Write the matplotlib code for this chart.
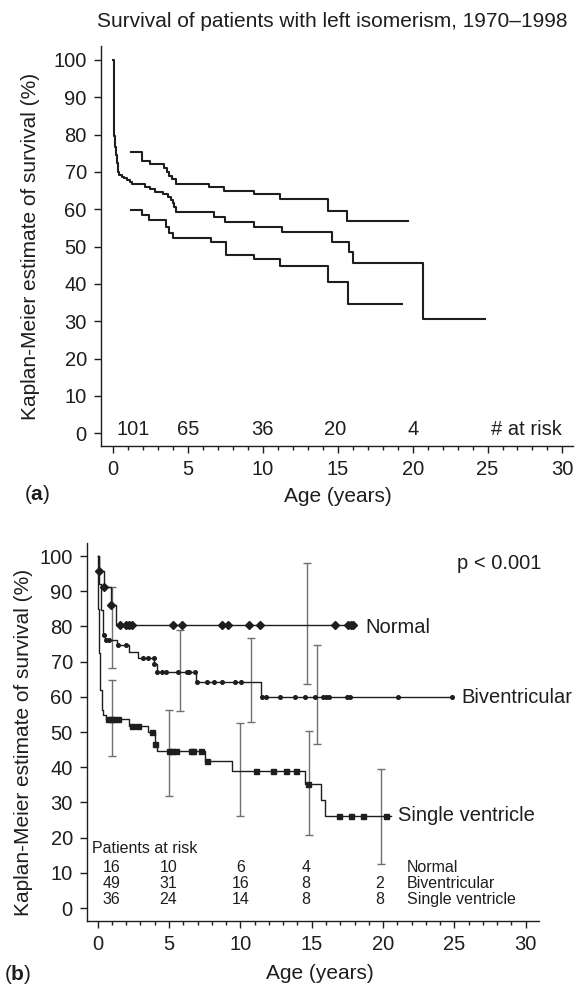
import numpy as np
import matplotlib
matplotlib.use("Agg")
import matplotlib.pyplot as plt

plt.rcParams['font.family'] = ['Liberation Sans', 'DejaVu Sans']
plt.rcParams['mathtext.fontset'] = 'custom'
plt.rcParams['mathtext.rm'] = 'Liberation Sans'
plt.rcParams['mathtext.bf'] = 'Liberation Sans:bold'

#########################################################################
##-- (a) Kaplan-Meier estimate, all patients, with confidence limits --##
#########################################################################
km_t = [0, 0.02, 0.07, 0.12, 0.16, 0.22, 0.29, 0.33, 0.38, 0.56, 0.71, 0.89, 1.11, 1.22,
        2.12, 2.45, 2.78, 3.34, 3.67, 3.83, 3.96, 4.05, 4.16, 6.75, 7.46, 9.40, 11.29,
        14.63, 15.77, 16.0, 20.71, 24.85]
km_s = [100, 86.2, 79.7, 76.8, 74.6, 72.3, 71.4, 70.1, 69.2, 68.7, 68.3, 67.9, 67.4, 66.8,
        66.1, 65.4, 64.5, 64.0, 63.4, 62.5, 61.6, 60.5, 59.4, 58.0, 56.5, 55.2, 53.8,
        51.3, 48.5, 45.7, 30.5, 30.5]
up_t = [1.18, 1.94, 2.45, 3.39, 3.61, 3.75, 3.9, 4.16, 6.41, 7.42, 9.40, 11.14, 14.37, 15.59, 19.67]
up_s = [75.3, 72.8, 72.0, 71.1, 70.1, 69.0, 68.0, 66.8, 65.9, 65.0, 64.0, 62.7, 59.5, 56.9, 56.9]
lo_t = [1.18, 1.89, 2.41, 3.52, 3.72, 3.96, 6.53, 7.51, 9.40, 11.14, 14.37, 15.66, 19.26]
lo_s = [59.8, 58.6, 57.1, 55.3, 53.6, 52.2, 51.2, 47.8, 46.8, 44.9, 40.4, 34.6, 34.6]

risk_a_t = [1.34, 5.01, 9.98, 14.8, 20.0]
risk_a_n = ['101', '65', '36', '20', '4']

#########################################################################
##-- (b) by group: Normal, Biventricular, Single ventricle           --##
#########################################################################
nor_t = [0, 0.08, 0.47, 0.93, 1.26, 17.9]
nor_s = [100, 95.8, 91.1, 86.0, 80.3, 80.3]
nor_cens = [0.09, 0.47, 0.93, 1.54, 1.99, 2.17, 2.41, 5.27, 5.92, 8.72, 9.11, 10.59,
            11.37, 16.66, 17.57, 17.76, 17.9]

biv_t = [0, 0.1, 0.23, 0.39, 0.51, 1.33, 2.19, 2.85, 3.97, 4.13, 6.87, 11.42, 24.81]
biv_s = [100, 92.0, 84.7, 77.6, 76.1, 74.7, 72.8, 71.1, 69.2, 67.1, 64.3, 60.0, 60.0]
biv_cens = [0.42, 0.58, 0.82, 1.45, 2.0, 3.17, 3.56, 3.94, 3.98, 4.18, 4.51, 4.79, 5.65,
            6.24, 6.43, 6.8, 6.98, 7.67, 8.16, 8.68, 9.6, 10.06, 11.54, 11.8, 12.8,
            13.85, 14.5, 15.2, 15.8, 16.0, 16.2, 17.45, 17.7, 21.07, 24.81]

sv_t = [0, 0.05, 0.12, 0.16, 0.28, 0.4, 0.58, 2.22, 3.5, 4.02, 4.13, 7.52, 9.39, 14.53,
        15.67, 15.93, 20.58]
sv_s = [100, 85.0, 72.4, 61.9, 56.3, 54.9, 53.6, 51.6, 49.9, 46.6, 44.7, 41.9, 39.0, 35.1,
        30.6, 26.1, 26.1]
sv_cens = [0.75, 0.93, 1.1, 1.4, 2.43, 2.85, 3.83, 4.05, 5.0, 5.19, 5.47, 6.54, 6.7, 7.21,
           7.68, 11.07, 12.31, 13.2, 13.9, 14.76, 16.91, 17.74, 18.59, 20.19]

# error bars (95% CI)
err_nor_t = [0.98, 14.65]
err_nor_lo = [68.1, 63.6]
err_nor_hi = [91.1, 98.1]
err_biv_t = [5.77, 10.72, 15.35]
err_biv_lo = [56.0, 52.8, 46.5]
err_biv_hi = [79.0, 76.8, 74.7]
err_sv_t = [0.98, 5.0, 9.98, 14.84, 19.86]
err_sv_lo = [43.2, 31.9, 26.1, 20.7, 12.6]
err_sv_hi = [64.8, 56.4, 52.7, 50.3, 39.4]

# patients at risk table
tab_t = [0.98, 4.95, 10.0, 14.6, 19.75]
tab_nor = ['16', '10', '6', '4', '']
tab_biv = ['49', '31', '16', '8', '2']
tab_sv = ['36', '24', '14', '8', '8']
tab_rows = ['Normal', 'Biventricular', 'Single ventricle']

ink = '#1e1e1e'
grey = '#707070'


def step_val(t, s, c):
    # value of the step curve at each censoring time
    idx = np.searchsorted(np.array(t), np.array(c), side='right') - 1
    return np.array(s)[idx]


def style_axis(ax, xlim, ylim):
    for side in ['top', 'right']:
        ax.spines[side].set_visible(False)
    for side in ['left', 'bottom']:
        ax.spines[side].set_linewidth(1.0)
        ax.spines[side].set_color(ink)
    ax.set_xlim(xlim)
    ax.set_ylim(ylim)
    ax.set_xticks(np.arange(0, 31, 5))
    ax.set_xticks(np.arange(0, 31, 1), minor=True)
    ax.set_yticks(np.arange(0, 101, 10))
    ax.tick_params(axis='both', which='major', direction='out', length=5, width=1.0,
                   color=ink, labelsize=14.5, labelcolor=ink, pad=5)
    ax.tick_params(axis='x', which='minor', direction='out', length=3, width=1.0, color=ink)
    ax.patch.set_alpha(0)


fig = plt.figure(figsize=(5.78, 9.86), dpi=100)

# ---------------- panel (a) ----------------
ax1 = fig.add_axes([0.1742, 0.5477, 0.8177, 0.4057])
style_axis(ax1, (-0.84, 30.73), (-3.4, 103.75))
ax1.step(km_t, km_s, where='post', color=ink, lw=1.5)
ax1.step(up_t, up_s, where='post', color=ink, lw=1.5)
ax1.step(lo_t, lo_s, where='post', color=ink, lw=1.5)
for t, n in zip(risk_a_t, risk_a_n):
    ax1.text(t, 0.9, n, ha='center', va='center', fontsize=14.5, color=ink)
ax1.text(29.95, 0.9, '# at risk', ha='right', va='center', fontsize=14.5, color=ink)

fig.text(0.574, 0.978, 'Survival of patients with left isomerism, 1970\u20131998',
         ha='center', va='center', fontsize=15, color=ink)
fig.text(0.052, 0.7498, 'Kaplan-Meier estimate of survival (%)', rotation=90,
         ha='center', va='center', fontsize=15, color=ink)
fig.text(0.584, 0.4963, 'Age (years)', ha='center', va='center', fontsize=15, color=ink)
fig.text(0.0415, 0.498, r'($\mathbf{a}$)', ha='left', va='center', fontsize=15, color=ink)

# ---------------- panel (b) ----------------
ax2 = fig.add_axes([0.15, 0.0659, 0.7818, 0.3837])
style_axis(ax2, (-0.77, 30.9), (-3.7, 103.8))

for et, elo, ehi in [(err_nor_t, err_nor_lo, err_nor_hi),
                     (err_biv_t, err_biv_lo, err_biv_hi),
                     (err_sv_t, err_sv_lo, err_sv_hi)]:
    mid = (np.array(elo) + np.array(ehi)) / 2
    half = (np.array(ehi) - np.array(elo)) / 2
    ax2.errorbar(et, mid, yerr=half, fmt='none', ecolor=grey, elinewidth=1.0,
                 capsize=3.0, capthick=1.0)

ax2.step(nor_t, nor_s, where='post', color=ink, lw=1.0)
ax2.step(biv_t, biv_s, where='post', color=ink, lw=1.0)
ax2.step(sv_t, sv_s, where='post', color=ink, lw=1.0)
ax2.plot(nor_cens, step_val(nor_t, nor_s, nor_cens), 'D', color=ink, ms=3.6, ls='none')
ax2.plot(biv_cens, step_val(biv_t, biv_s, biv_cens), 'o', color=ink, ms=2.6, ls='none')
ax2.plot(sv_cens, step_val(sv_t, sv_s, sv_cens), 's', color=ink, ms=3.6, ls='none')

ax2.text(18.73, 79.8, 'Normal', ha='left', va='center', fontsize=14.5, color=ink)
ax2.text(25.46, 59.8, 'Biventricular', ha='left', va='center', fontsize=14.5, color=ink,
         clip_on=False)
ax2.text(21.04, 26.3, 'Single ventricle', ha='left', va='center', fontsize=14.5, color=ink,
         clip_on=False)
ax2.text(25.2, 97.9, 'p < 0.001', ha='left', va='center', fontsize=14.5, color=ink)

ax2.text(-0.42, 16.95, 'Patients at risk', ha='left', va='center', fontsize=11.5, color=ink)
for row_y, vals in zip([11.4, 7.0, 2.5], [tab_nor, tab_biv, tab_sv]):
    for t, v in zip(tab_t, vals):
        ax2.text(t, row_y, v, ha='center', va='center', fontsize=11.5, color=ink)
for row_y, name in zip([11.4, 7.0, 2.5], tab_rows):
    ax2.text(21.69, row_y, name, ha='left', va='center', fontsize=11.5, color=ink)

fig.text(0.0415, 0.2475, 'Kaplan-Meier estimate of survival (%)', rotation=90,
         ha='center', va='center', fontsize=15, color=ink)
fig.text(0.5536, 0.0122, 'Age (years)', ha='center', va='center', fontsize=15, color=ink)
fig.text(0.007, 0.0112, r'($\mathbf{b}$)', ha='left', va='center', fontsize=15, color=ink)

fig.savefig('out.png', dpi=100)
